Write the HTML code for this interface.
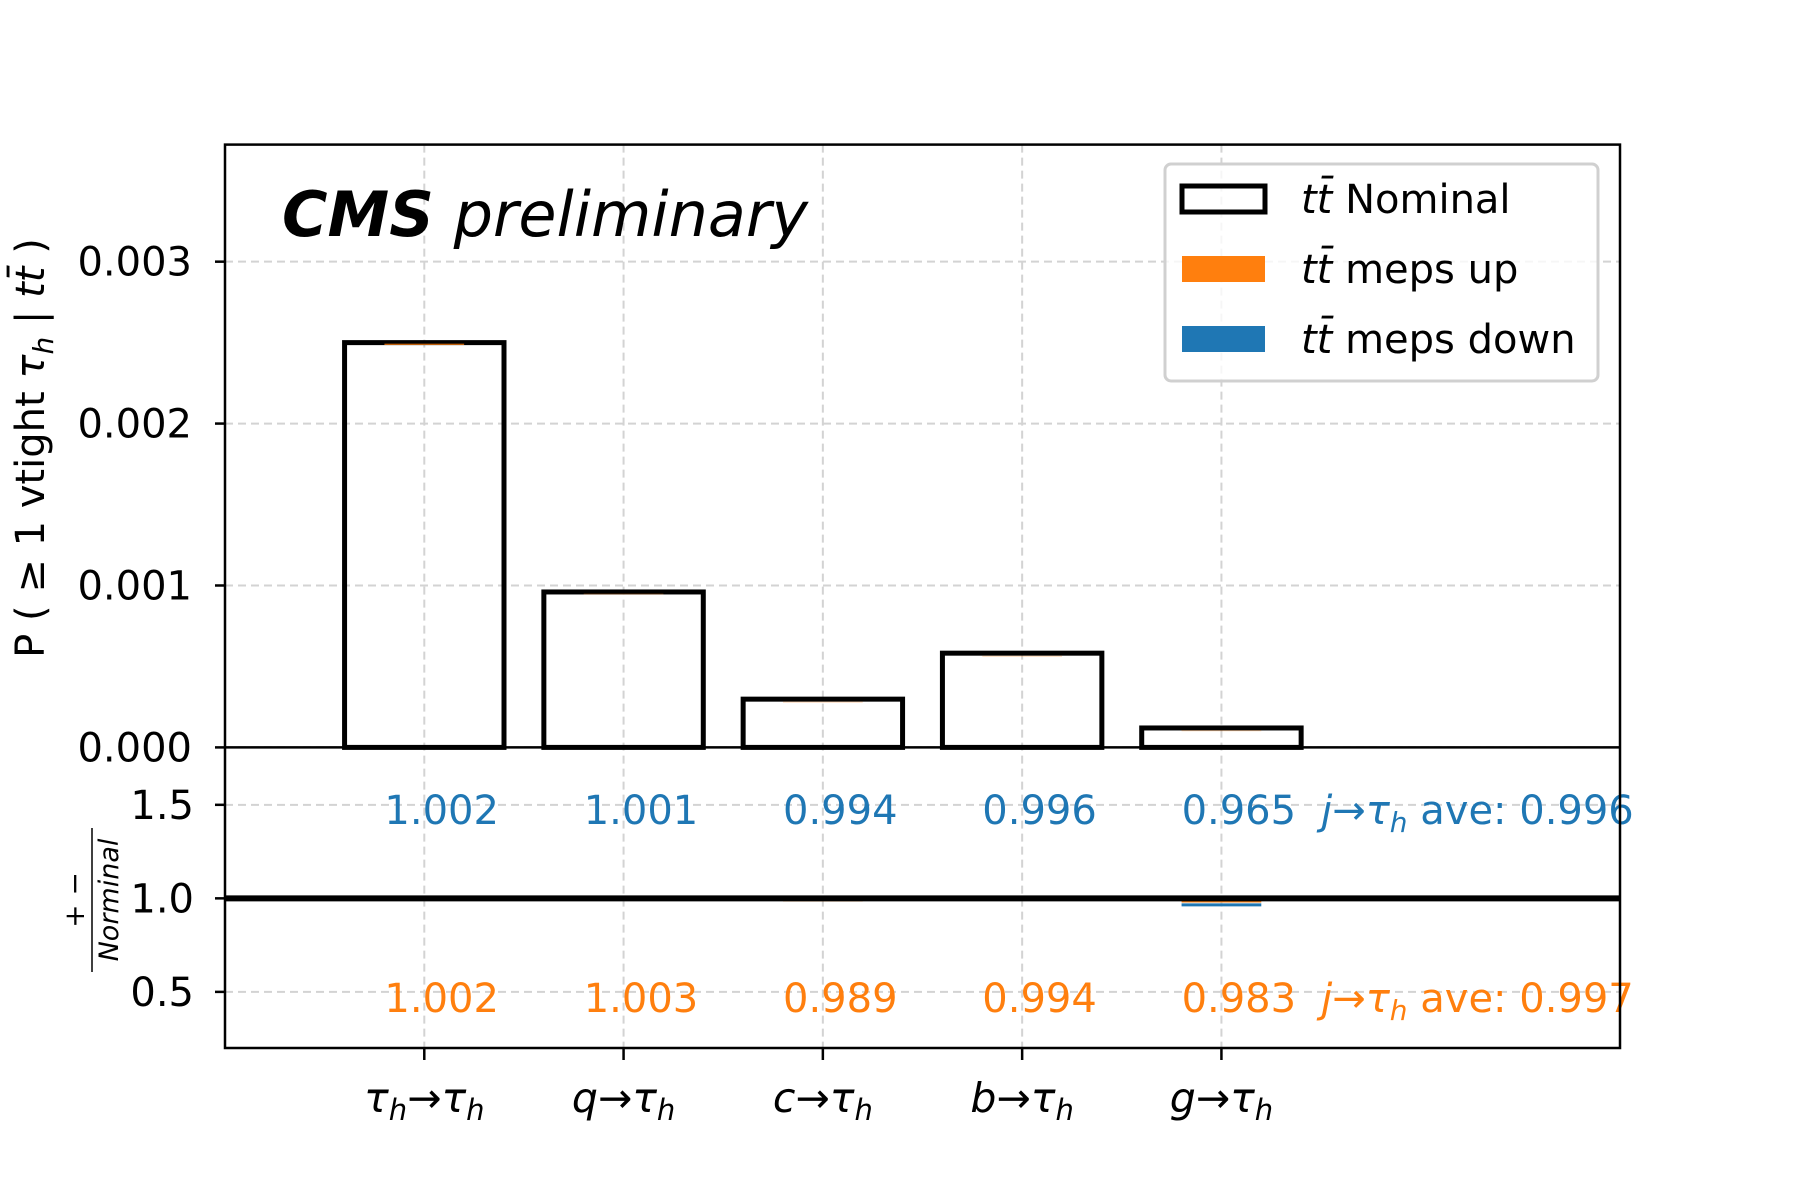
<!DOCTYPE html>
<html><head><meta charset="utf-8"><style>
html,body{margin:0;padding:0;background:#fff;}
svg{display:block;font-family:"DejaVu Sans","Liberation Sans",sans-serif;}
</style></head><body>
<svg id="chart" width="1800" height="1200" viewBox="0 0 1800 1200" xmlns="http://www.w3.org/2000/svg">
<g id="grid"></g>
<g id="marks"></g>
<g id="axes"></g>
<text x="282" y="236" font-size="62" font-style="italic"><tspan font-weight="bold">CMS</tspan> preliminary</text>
<text transform="translate(44,448) rotate(-90)" text-anchor="middle" font-size="40">P ( ≥ 1 vtight <tspan font-style="italic">τ</tspan><tspan font-style="italic" font-size="28" dy="9">h</tspan><tspan dy="-9"> | </tspan><tspan font-style="italic">tt̄</tspan> )</text>
<g transform="translate(98,900) rotate(-90)">
<text x="0" y="-14" text-anchor="middle" font-size="28">+   −</text>
<line x1="-72" y1="-6" x2="72" y2="-6" stroke="#000" stroke-width="1.5"/>
<text x="0" y="20" text-anchor="middle" font-size="27" font-style="italic">Norminal</text>
</g>
<g>
<rect x="1165" y="164" width="433" height="217" rx="6" fill="#fff" fill-opacity="0.8" stroke="#d0d0d0" stroke-width="3"/>
<rect x="1182" y="186" width="83" height="26" fill="none" stroke="#000" stroke-width="5"/>
<text x="1301" y="213" font-size="40"><tspan font-style="italic">tt̄</tspan> Nominal</text>
<rect x="1182" y="256" width="83" height="26" fill="#ff7f0e"/>
<text x="1301" y="283" font-size="40"><tspan font-style="italic">tt̄</tspan> meps up</text>
<rect x="1182" y="326" width="83" height="26" fill="#1f77b4"/>
<text x="1301" y="353" font-size="40"><tspan font-style="italic">tt̄</tspan> meps down</text>
</g>
</svg>
<script>
const categories = ["τh→τh","q→τh","c→τh","b→τh","g→τh"];
const catMain = ["τ","q","c","b","g"];
const nominal = [0.0025, 0.00096, 0.000298, 0.000582, 0.00012];
const ratioUp = [1.002, 1.003, 0.989, 0.994, 0.983];
const ratioDown = [1.002, 1.001, 0.994, 0.996, 0.965];
const aveUp = 0.997;
const aveDown = 0.996;
const yTicks = [0, 0.001, 0.002, 0.003];
const yTickLabels = ["0.000","0.001","0.002","0.003"];
const rTicks = [0.5, 1.0, 1.5];
const rTickLabels = ["0.5","1.0","1.5"];

const NS="http://www.w3.org/2000/svg";
const L=225, R=1620, T=144.6, M=747.4, B=1048;
const xMin=-1, xMax=6, yMax=0.003723, rMin=0.2, rMax=1.807;
const xs=v=>L+(v-xMin)/(xMax-xMin)*(R-L);
const ys=v=>M-v/yMax*(M-T);
const rs=v=>B-(v-rMin)/(rMax-rMin)*(B-M);
function mk(tag,attrs,parent){const e=document.createElementNS(NS,tag);for(const k in attrs)e.setAttribute(k,attrs[k]);parent.appendChild(e);return e;}
const grid=document.getElementById('grid'),marks=document.getElementById('marks'),axes=document.getElementById('axes');
const gs={stroke:"#d3d3d3","stroke-width":2,"stroke-dasharray":"8,5"};
categories.forEach((c,i)=>{const g=mk('line',Object.assign({x1:xs(i),x2:xs(i),y1:T,y2:B},gs),grid);

});
yTicks.forEach(v=>{const g=mk('line',Object.assign({x1:L,x2:R,y1:ys(v),y2:ys(v)},gs),grid);

});
rTicks.forEach(v=>{const g=mk('line',Object.assign({x1:L,x2:R,y1:rs(v),y2:rs(v)},gs),grid);

});
const w=0.8;
nominal.forEach((v,i)=>{
 const r=mk('rect',{x:xs(i-w/2),y:ys(v),width:xs(i+w/2)-xs(i-w/2),height:ys(0)-ys(v),fill:"none",stroke:"#000","stroke-width":5},marks);
 
 
 const u=mk('line',{x1:xs(i-0.2),x2:xs(i+0.2),y1:ys(v*ratioUp[i])+2.5,y2:ys(v*ratioUp[i])+2.5,stroke:"#ff7f0e","stroke-width":1,"stroke-opacity":i===0?1:0.3},marks);
 
 
 const u2=mk('line',{x1:xs(i-0.2),x2:xs(i+0.2),y1:rs(ratioUp[i]),y2:rs(ratioUp[i]),stroke:"#ff7f0e","stroke-width":2},marks);
 
 
 const d=mk('line',{x1:xs(i-0.2),x2:xs(i+0.2),y1:rs(ratioDown[i]),y2:rs(ratioDown[i]),stroke:"#1f77b4","stroke-width":3},marks);
 
 
 const t1=mk('text',{x:xs(i-0.2),y:824,"font-size":40,fill:"#1f77b4"},marks);t1.textContent=ratioDown[i].toFixed(3);
 
 
 const t2=mk('text',{x:xs(i-0.2),y:1012,"font-size":40,fill:"#ff7f0e"},marks);t2.textContent=ratioUp[i].toFixed(3);
 
 
});
function ave(y,col,val,name){const t=mk('text',{x:xs(4.5),y:y,"font-size":40,fill:col},marks);
t.innerHTML='<tspan font-style="italic">j</tspan>→<tspan font-style="italic">τ</tspan><tspan font-style="italic" font-size="28" dy="8">h</tspan><tspan dy="-8"> ave: '+val.toFixed(3)+'</tspan>';

}
ave(824,"#1f77b4",aveDown,'ave-down-label');
ave(1012,"#ff7f0e",aveUp,'ave-up-label');
const one=mk('line',{x1:L,x2:R,y1:rs(1),y2:rs(1),stroke:"#000","stroke-width":6},marks);


mk('rect',{x:L,y:T,width:R-L,height:B-T,fill:"none",stroke:"#000","stroke-width":2.5},axes);
mk('line',{x1:L,x2:R,y1:M,y2:M,stroke:"#000","stroke-width":2.5},axes);
yTicks.forEach((v,i)=>{mk('line',{x1:L-10,x2:L,y1:ys(v),y2:ys(v),stroke:"#000","stroke-width":2.5},axes);
const t=mk('text',{x:L-33,y:ys(v)+14,"text-anchor":"end","font-size":40},axes);t.textContent=yTickLabels[i];

});
rTicks.forEach((v,i)=>{mk('line',{x1:L-10,x2:L,y1:rs(v),y2:rs(v),stroke:"#000","stroke-width":2.5},axes);
const t=mk('text',{x:L-31,y:rs(v)+14,"text-anchor":"end","font-size":40},axes);t.textContent=rTickLabels[i];

});
categories.forEach((c,i)=>{mk('line',{x1:xs(i),x2:xs(i),y1:B,y2:B+12,stroke:"#000","stroke-width":2.5},axes);
const t=mk('text',{x:xs(i),y:1112,"text-anchor":"middle","font-size":41,"font-style":"italic"},axes);
const m=catMain[i];
t.innerHTML=(m==="τ"?'τ<tspan font-size="29" dy="8">h</tspan><tspan dy="-8">→τ</tspan>':m+'→τ')+'<tspan font-size="29" dy="8">h</tspan>';

});
</script>
</body></html>
